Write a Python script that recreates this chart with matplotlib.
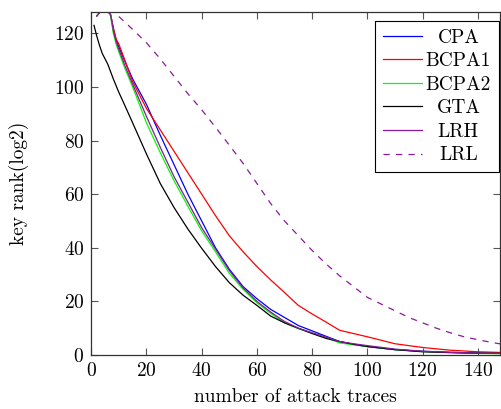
import matplotlib
matplotlib.use("Agg")
import matplotlib.pyplot as plt
from matplotlib.transforms import Affine2D

plt.rcParams['font.family'] = ['cmr10', 'DejaVu Serif']
plt.rcParams['axes.formatter.use_mathtext'] = True
plt.rcParams['mathtext.fontset'] = 'cm'

# ---- data ----
x_top = [2, 3, 4, 5, 6, 7, 8, 9, 10, 12, 15, 20, 25, 30, 35, 40, 45, 50, 55, 60,
         65, 70, 75, 80, 85, 90, 95, 100, 110, 120, 130, 140, 150]
cpa = [126.5, 127.8, 128.5, 128.6, 128.4, 127.0, 122.0, 117.5, 115.0, 110.0, 103.0, 93.5,
       82.0, 71.0, 60.0, 50.0, 40.0, 32.0, 25.5, 21.0, 17.0, 14.0, 11.0, 9.0, 7.0,
       5.0, 4.0, 3.1, 2.0, 1.4, 1.0, 0.7, 0.6]
bcpa1 = [126.5, 127.8, 128.5, 128.6, 128.4, 127.0, 122.0, 118.0, 116.0, 110.5, 102.0, 92.0,
         84.0, 76.0, 68.0, 60.0, 52.0, 44.5, 38.5, 33.0, 28.0, 23.3, 18.5, 15.3, 12.3,
         9.2, 8.0, 6.8, 4.2, 2.8, 1.8, 1.2, 0.9]
bcpa2 = [126.5, 127.8, 128.5, 128.6, 128.4, 126.5, 120.0, 116.0, 113.0, 107.5, 100.0, 86.6,
         75.5, 65.0, 55.5, 46.3, 38.5, 30.5, 24.5, 19.5, 15.5, 12.0, 9.8, 8.2, 6.5,
         4.5, 3.8, 3.2, 2.0, 1.3, 0.9, 0.6, 0.5]
lrh = [126.5, 127.8, 128.5, 128.6, 128.4, 127.0, 121.0, 117.0, 114.0, 108.5, 101.0, 89.0,
       77.5, 66.5, 57.0, 47.5, 39.5, 31.5, 25.0, 20.0, 16.0, 12.5, 10.0, 8.3, 6.7,
       5.0, 4.2, 3.5, 2.2, 1.4, 1.0, 0.7, 0.6]

x_gta = [1, 2, 3, 4, 5, 6, 8, 10, 12, 15, 20, 25, 30, 35, 40, 45, 50, 55, 60,
         65, 70, 75, 80, 85, 90, 95, 100, 110, 120, 130, 140, 150]
gta = [123.0, 119.0, 115.5, 112.5, 110.5, 108.5, 103.0, 98.0, 93.5, 86.6, 75.0, 64.0,
       55.0, 47.0, 39.8, 33.0, 27.0, 22.3, 18.5, 14.5, 12.0, 10.0, 8.0, 6.2, 5.0,
       4.0, 3.2, 2.0, 1.2, 0.9, 0.7, 0.6]

x_lrl = [10, 15, 20, 25, 30, 35, 40, 45, 50, 55, 60, 65, 70, 75, 80, 85, 90, 95, 100,
         105, 110, 115, 120, 125, 130, 135, 140, 145, 150]
lrl = [126.3, 121.5, 116.5, 110.5, 104.0, 97.5, 91.5, 85.0, 78.3, 71.5, 64.0, 56.5,
       50.0, 44.5, 39.0, 34.0, 29.5, 25.5, 21.5, 19.0, 16.5, 14.0, 12.0, 10.0, 8.3,
       6.8, 5.7, 4.7, 3.8]

x_ticks = [0, 20, 40, 60, 80, 100, 120, 140]
y_ticks = [0, 20, 40, 60, 80, 100, 120]

violet = '#8a1a9b'
fs = 14

fig = plt.figure(figsize=(5.02, 4.09), dpi=100)
ax = fig.add_axes([91.25 / 502, 1 - 355 / 409, (500.5 - 91.25) / 502, (355 - 12) / 409])

lw = 0.9
ax.plot(x_top, cpa, color='#0000ff', lw=lw, label='CPA')
ax.plot(x_top, bcpa1, color='#ff0000', lw=lw, label='BCPA1')
ax.plot(x_top, bcpa2, color='#00ff00', lw=lw, label='BCPA2')
ax.plot(x_gta, gta, color='black', lw=lw, label='GTA')
ax.plot(x_top, lrh, color=violet, lw=lw, label='LRH')
ax.plot(x_lrl, lrl, color=violet, lw=lw, ls=(0, (5, 5)), label='LRL')

ax.set_xlim(0, 148.2)
ax.set_ylim(0, 128)
ax.set_xticks(x_ticks)
ax.set_yticks(y_ticks)
ax.tick_params(direction='in', top=True, right=True, length=5, width=0.8,
               color='#555555', labelsize=fs, pad=5)
for s in ax.spines.values():
    s.set_linewidth(0.9)
    s.set_color('#333333')

ax.set_xlabel('number of attack traces', fontsize=fs, labelpad=6)
ax.set_ylabel('key rank(log2)', fontsize=fs, labelpad=18)

leg = ax.legend(loc='upper right', bbox_to_anchor=(0.996, 0.974), borderaxespad=0,
                fontsize=fs, handlelength=2.0, handletextpad=0.2, borderpad=0.4,
                labelspacing=0.29, fancybox=False, framealpha=1, edgecolor='black')
leg.get_frame().set_linewidth(0.8)

# center legend texts within the text column (as in pgfplots)
fig.canvas.draw()
r = fig.canvas.get_renderer()
texts = leg.get_texts()
widths = [t.get_window_extent(r).width for t in texts]
wmax = max(widths)
for t, w in zip(texts, widths):
    t.set_transform(t.get_transform() + Affine2D().translate((wmax - w) / 2, 0))

fig.savefig('out.png', dpi=100)
